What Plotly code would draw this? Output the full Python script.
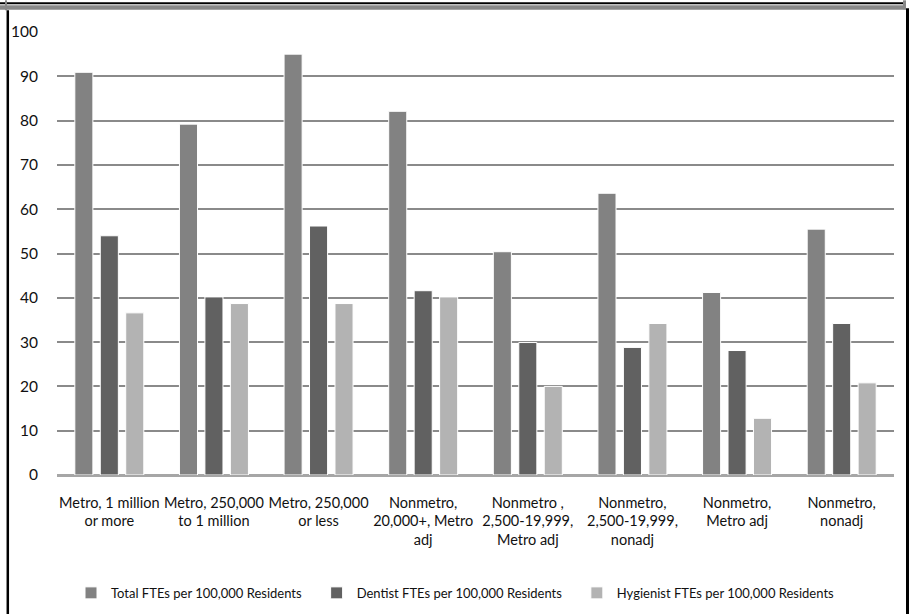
import plotly.graph_objects as go

categories = [
    "Metro, 1 million<br>or more",
    "Metro, 250,000<br>to 1 million",
    "Metro, 250,000<br>or less",
    "Nonmetro,<br>20,000+, Metro<br>adj",
    "Nonmetro ,<br>2,500-19,999,<br>Metro adj",
    "Nonmetro,<br>2,500-19,999,<br>nonadj",
    "Nonmetro,<br>Metro adj",
    "Nonmetro,<br>nonadj",
]
total_fte = [90.9, 79.2, 95.0, 82.1, 50.4, 63.6, 41.2, 55.5]
dentist_fte = [54.0, 40.2, 56.2, 41.6, 29.9, 28.8, 28.1, 34.2]
hygienist_fte = [36.6, 38.7, 38.7, 40.2, 20.0, 34.2, 12.8, 20.8]
series_names = [
    "Total FTEs per 100,000 Residents",
    "Dentist FTEs per 100,000 Residents",
    "Hygienist FTEs per 100,000 Residents",
]
name_pad = ["\u00a0\u00a0\u00a0", "\u00a0\u00a0\u00a0", ""]
y_ticks = [0, 10, 20, 30, 40, 50, 60, 70, 80, 90, 100]

colors = ["#828282", "#616161", "#b3b3b3"]
FONT = "Lato, sans-serif"

fig = go.Figure()
for name, pad, vals, col in zip(series_names, name_pad, [total_fte, dentist_fte, hygienist_fte], colors):
    fig.add_trace(go.Bar(
        x=categories, y=vals, name=name + pad,
        marker=dict(color=col, line=dict(color="white", width=1)),
    ))

W, H = 909, 614
L, R, T, B = 57, 894, 31.7, 475.0

def px(x):
    return (x - L) / (R - L)

def py(y):
    return (B - y) / (B - T)

shapes = [
    dict(type="rect", xref="paper", yref="paper", x0=px(0), x1=px(906), y0=py(5), y1=py(9.5),
         fillcolor="#888888", line=dict(width=0), layer="above"),
    dict(type="line", xref="paper", yref="paper", x0=px(0), x1=px(903), y0=py(3), y1=py(3),
         line=dict(color="black", width=2), layer="above"),
    dict(type="line", xref="paper", yref="paper", x0=px(904.5), x1=px(904.5), y0=py(0), y1=py(9),
         line=dict(color="#888888", width=3), layer="above"),
    dict(type="line", xref="paper", yref="paper", x0=px(6), x1=px(6), y0=py(0), y1=py(10),
         line=dict(color="#888888", width=2), layer="above"),
    dict(type="line", xref="paper", yref="paper", x0=px(7.8), x1=px(7.8), y0=py(10), y1=py(614),
         line=dict(color="black", width=2.5), layer="above"),
    dict(type="line", xref="paper", yref="paper", x0=px(907.5), x1=px(907.5), y0=py(8), y1=py(614),
         line=dict(color="black", width=3), layer="above"),
]

fig.update_layout(
    width=W, height=H, autosize=False,
    margin=dict(l=L, r=W - R, t=T, b=H - B, pad=0, autoexpand=False),
    paper_bgcolor="white", plot_bgcolor="white",
    barmode="group", bargap=0.27, bargroupgap=0.29,
    font=dict(family=FONT, size=14, color="#111111"),
    showlegend=True,
    legend=dict(
        orientation="h", x=px(71), xanchor="left", y=py(593), yanchor="middle",
        font=dict(family=FONT, size=13, color="#111111"),
        itemwidth=30, traceorder="normal",
    ),
    shapes=shapes,
    xaxis=dict(
        showgrid=False, showline=False, zeroline=False, ticks="", tickangle=0,
        tickfont=dict(family=FONT, size=14.5, color="#111111"),
        ticklabelstandoff=17,
    ),
    yaxis=dict(
        range=[0, 100], tickvals=y_ticks, showgrid=True, gridcolor="#8a8a8a", gridwidth=1.5,
        zeroline=True, zerolinecolor="#a6a6a6", zerolinewidth=2.5,
        showline=False, ticks="", ticklabelstandoff=18,
        tickfont=dict(family=FONT, size=15.5, color="#111111"),
    ),
)

fig.write_html("out.html")
